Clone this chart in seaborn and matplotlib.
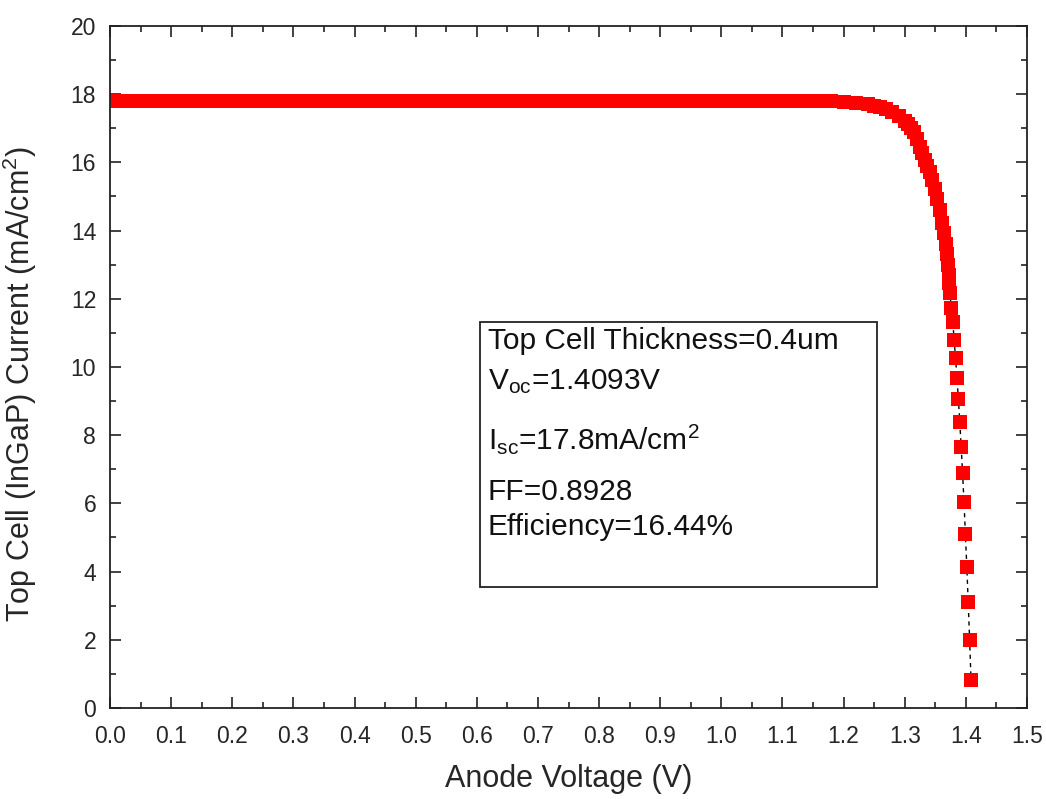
import matplotlib
matplotlib.use("Agg")
import matplotlib.pyplot as plt
from matplotlib.patches import Rectangle
from matplotlib.ticker import MultipleLocator
import seaborn as sns
import numpy as np

# ---------------- data ----------------
# flat part of the J-V curve
v_flat = [0.00, 0.02, 0.04, 0.06, 0.08, 0.10, 0.12, 0.14, 0.16, 0.18,
          0.20, 0.22, 0.24, 0.26, 0.28, 0.30, 0.32, 0.34, 0.36, 0.38,
          0.40, 0.42, 0.44, 0.46, 0.48, 0.50, 0.52, 0.54, 0.56, 0.58,
          0.60, 0.62, 0.64, 0.66, 0.68, 0.70, 0.72, 0.74, 0.76, 0.78,
          0.80, 0.82, 0.84, 0.86, 0.88, 0.90, 0.92, 0.94, 0.96, 0.98,
          1.00, 1.02, 1.04, 1.06, 1.08, 1.10, 1.12, 1.14]
j_flat = [17.80, 17.80, 17.80, 17.80, 17.80, 17.80, 17.80, 17.80, 17.80, 17.80,
          17.80, 17.80, 17.80, 17.80, 17.80, 17.80, 17.80, 17.80, 17.80, 17.80,
          17.80, 17.80, 17.80, 17.80, 17.80, 17.80, 17.80, 17.80, 17.80, 17.80,
          17.80, 17.80, 17.80, 17.80, 17.80, 17.80, 17.80, 17.80, 17.80, 17.80,
          17.80, 17.80, 17.80, 17.80, 17.80, 17.80, 17.80, 17.80, 17.80, 17.80,
          17.80, 17.80, 17.80, 17.80, 17.80, 17.80, 17.80, 17.80]

# knee
v_knee = [1.160, 1.180, 1.200, 1.220, 1.240, 1.250, 1.260, 1.270, 1.280, 1.290,
          1.300, 1.305, 1.310, 1.315, 1.320, 1.325, 1.329, 1.333, 1.337, 1.341,
          1.345, 1.349, 1.353, 1.357, 1.361, 1.364, 1.367, 1.369, 1.3705, 1.372,
          1.373]
j_knee = [17.80, 17.79, 17.77, 17.75, 17.70, 17.66, 17.62, 17.56, 17.47, 17.35,
          17.20, 17.12, 17.02, 16.88, 16.70, 16.46, 16.27, 16.07, 15.90, 15.72,
          15.48, 15.23, 14.94, 14.59, 14.22, 13.92, 13.60, 13.30, 13.00, 12.70,
          12.45]

# steep part near Voc (separate squares)
v_tail = [1.3740, 1.3763, 1.3786, 1.3809, 1.3832, 1.3855, 1.3878, 1.3901,
          1.3924, 1.3947, 1.3970, 1.3993, 1.4016, 1.4039, 1.4062, 1.4085]
j_tail = [12.16, 11.72, 11.33, 10.79, 10.27, 9.67, 9.06, 8.38,
          7.66, 6.88, 6.03, 5.09, 4.14, 3.10, 1.99, 0.82]

voltage = np.array(v_flat + v_knee + v_tail)
current = np.array(j_flat + j_knee + j_tail)

info_lines = [
    "Top Cell Thickness=0.4um",
    r"V$_{\mathrm{oc}}$=1.4093V",
    r"I$_{\mathrm{sc}}$=17.8mA/cm$^{2}$",
    "FF=0.8928",
    "Efficiency=16.44%",
]
info_y = [0.538, 0.478, 0.394, 0.317, 0.265]

x_ticks = [0.0, 0.1, 0.2, 0.3, 0.4, 0.5, 0.6, 0.7, 0.8, 0.9, 1.0, 1.1, 1.2, 1.3, 1.4, 1.5]
y_ticks = [0, 2, 4, 6, 8, 10, 12, 14, 16, 18, 20]

# ---------------- style ----------------
sns.set_theme(style="ticks")
plt.rcParams["font.family"] = ["Liberation Sans", "DejaVu Sans"]
plt.rcParams["mathtext.fontset"] = "custom"
plt.rcParams["mathtext.rm"] = "Liberation Sans"
plt.rcParams["mathtext.it"] = "Liberation Sans:italic"

fig = plt.figure(figsize=(10.46, 7.99), dpi=100)
ax = fig.add_axes([0.1052, 0.1139, 0.9818 - 0.1052, 0.9675 - 0.1139])

sns.lineplot(x=voltage, y=current, ax=ax, estimator=None, sort=False,
             color="black", linestyle=(0, (3, 3)), linewidth=1.0,
             marker="s", markersize=10, markerfacecolor="#ff0000",
             markeredgecolor="#ff0000", markeredgewidth=0.0)

ax.set_xlim(0.0, 1.5)
ax.set_ylim(0, 20)
ax.set_xticks(x_ticks)
ax.set_xticklabels([f"{t:.1f}" for t in x_ticks])
ax.set_yticks(y_ticks)
ax.set_yticklabels([str(t) for t in y_ticks])
ax.xaxis.set_minor_locator(MultipleLocator(0.05))
ax.yaxis.set_minor_locator(MultipleLocator(1))

ax.tick_params(which="both", direction="in", top=True, right=True,
               color="#222222", width=1.2)
ax.tick_params(which="major", length=8)
ax.tick_params(which="minor", length=4)
ax.tick_params(axis="x", which="major", pad=12, labelsize=16.5)
ax.tick_params(axis="y", which="major", pad=10, labelsize=16.5)
for sp in ax.spines.values():
    sp.set_linewidth(1.3)
    sp.set_color("#222222")
    sp.set_visible(True)

ax.set_xlabel("Anode Voltage (V)", fontsize=22)
ax.set_ylabel(r"Top Cell (InGaP) Current (mA/cm$^{2}$)", fontsize=22)
ax.xaxis.set_label_coords(0.5, -0.082)
ax.yaxis.set_label_coords(-0.078, 0.475)

# info box
ax.add_patch(Rectangle((0.4035, 0.178), 0.4329, 0.3884, transform=ax.transAxes,
                       fill=False, edgecolor="#222222", linewidth=1.3, zorder=5))
for txt, yy in zip(info_lines, info_y):
    ax.text(0.4122, yy, txt, transform=ax.transAxes, fontsize=21.5,
            va="center", ha="left", color="#111111", zorder=6)

fig.savefig("out.png", dpi=100, facecolor="white")
